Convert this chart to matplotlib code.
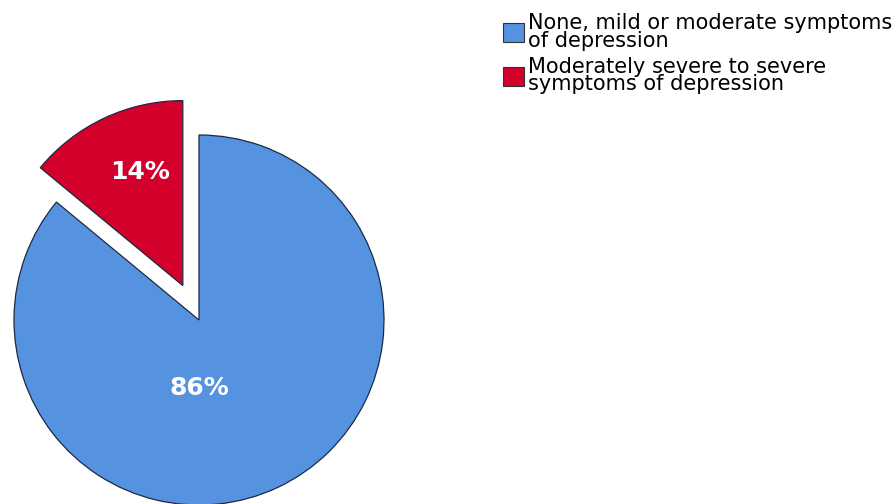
import matplotlib.pyplot as plt
from matplotlib.patches import Patch

# data
labels = ["None, mild or moderate symptoms\nof depression",
          "Moderately severe to severe\nsymptoms of depression"]
shares = [86, 14]
colors = ["#5592e0", "#d3002c"]

plt.rcParams['font.family'] = ['DejaVu Sans']

fig = plt.figure(figsize=(8.95, 5.04), dpi=100)
ax = fig.add_axes([0, 0, 1, 1])

# work in pixel units: pie centre and radius as measured on the picture
R = 185
cx, cy = 199, 184
wedges, texts, pcts = ax.pie(
    shares, colors=colors, radius=R, center=(cx, cy),
    startangle=90 + shares[1] * 3.6, counterclock=True,
    explode=[0, 38],
    autopct=lambda p: f"{p:.0f}%",
    wedgeprops=dict(edgecolor="#1c2a44", linewidth=0.9),
    textprops=dict(color="white", fontsize=18, fontweight="bold"),
)

# put the percentage labels where the original puts them
pcts[0].set_position((cx, cy - 0.37 * R))
pcts[1].set_position((cx - 16 - 0.23 * R, cy + 35 + 0.61 * R))

ax.set_xlim(0, 895)
ax.set_ylim(0, 504)
ax.set_aspect('equal')
ax.axis('off')

handles = [Patch(facecolor=c, edgecolor="#333333", linewidth=0.8) for c in colors]
leg = fig.legend(handles, labels, loc="upper left",
                 bbox_to_anchor=(503 / 895, 1 - 13 / 504),
                 frameon=False, fontsize=15, handlelength=1.0, handleheight=1.0,
                 handletextpad=0.2, labelspacing=0.3, borderpad=0, borderaxespad=0)
for t in leg.get_texts():
    t.set_linespacing(0.85)

fig.savefig("out.png", dpi=100)
